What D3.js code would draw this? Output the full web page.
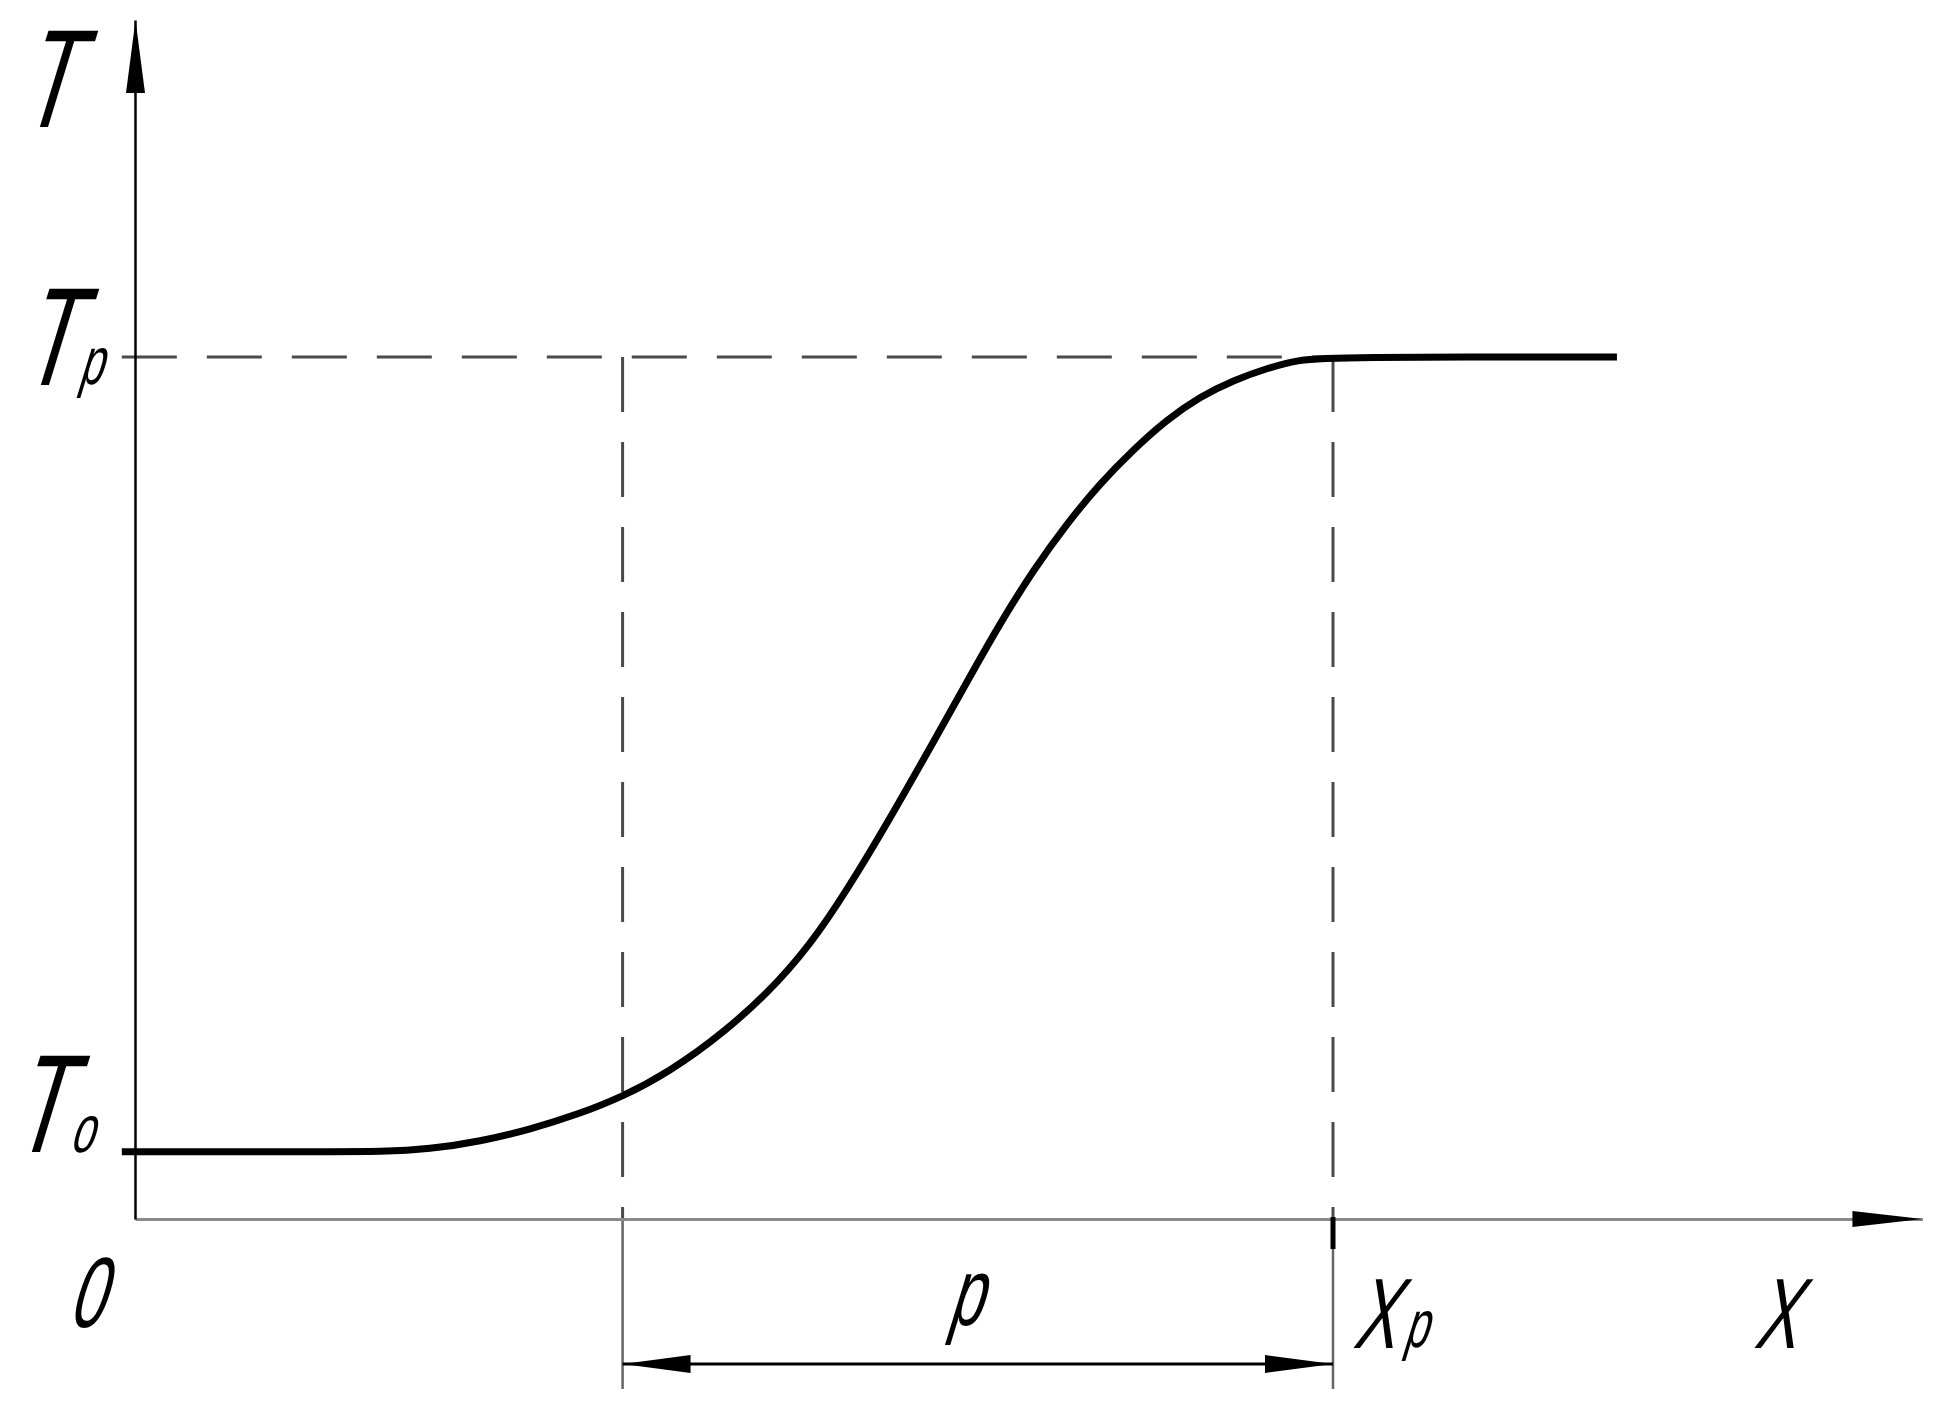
<!DOCTYPE html>
<html>
<head>
<meta charset="utf-8">
<script src="https://cdn.jsdelivr.net/npm/d3@7"></script>
<style>
  body { margin: 0; background: #fff; }
  svg { display: block; }
  .lbl { font-family: "Liberation Sans", Arial, sans-serif; fill: #000; }
</style>
</head>
<body>
<svg id="content"></svg>
<script>
// curve T(x) (x in units where Xp = 10, T in units where Tp = 10)
const curveX = [-0.11, 1.63, 2.05, 2.46, 2.88, 3.30, 3.71, 4.07, 4.44, 4.92, 5.39, 5.71, 6.03, 6.34,
                6.66, 6.94, 7.22, 7.50, 7.78, 8.06, 8.33, 8.61, 8.89, 9.17, 9.45, 9.72, 10.00, 12.37];
const curveT = [0.78, 0.78, 0.78, 0.81, 0.90, 1.04, 1.22, 1.42, 1.69, 2.16, 2.77, 3.32, 4.01, 4.74,
                5.52, 6.22, 6.91, 7.53, 8.07, 8.54, 8.92, 9.27, 9.54, 9.73, 9.87, 9.97, 10.00, 10.00];

// levels and marks on the axes
const T0 = 0.78, Tp = 10;
const xStart = 4.07, xP = 10;
const xMax = 14.92, tMax = 13.91;

// label texts
const axisNames = ["T", "X"];
const originName = "0";
const levelSubs = ["o", "p"];
const dimName = "p";

const W = 1945, H = 1412;

const svg = d3.select("#content")
    .attr("width", W)
    .attr("height", H);

svg.append("rect").attr("width", W).attr("height", H).attr("fill", "#fff");

const x = d3.scaleLinear().domain([0, xP]).range([135, 1333]);
const y = d3.scaleLinear().domain([0, Tp]).range([1219, 357]);

const x0 = x(0), y0 = y(0);
const data = curveX.map((v, i) => ({ x: v, t: curveT[i] }));

// dashed guide lines
const dash = "55,30";
const guides = svg.append("g")
    .attr("stroke", "#4a4a4a")
    .attr("stroke-width", 3)
    .attr("fill", "none");

guides.append("line")
    .attr("x1", x(-0.11)).attr("x2", x(xP))
    .attr("y1", y(Tp)).attr("y2", y(Tp))
    .attr("stroke-dasharray", dash);

[xStart, xP].forEach(v => {
    guides.append("line")
        .attr("x1", x(v)).attr("x2", x(v))
        .attr("y1", y(Tp)).attr("y2", y0)
        .attr("stroke-dasharray", dash);
    // extension line below the axis
    guides.append("line")
        .attr("x1", x(v)).attr("x2", x(v))
        .attr("y1", y0).attr("y2", y0 + 170)
        .attr("stroke", "#666")
        .attr("stroke-width", 2.5);
});

// x axis (no ticks, just the line)
const xAxisScale = d3.scaleLinear().domain([0, xMax]).range([x0, x(xMax)]);
svg.append("g")
    .attr("transform", `translate(0,${y0})`)
    .call(d3.axisBottom(xAxisScale).tickValues([]).tickSizeOuter(0))
    .call(g => g.select(".domain").attr("stroke", "#8a8a8a").attr("stroke-width", 3));

// y axis
const yAxisScale = d3.scaleLinear().domain([0, tMax]).range([y0, y(tMax)]);
svg.append("g")
    .attr("transform", `translate(${x0},0)`)
    .call(d3.axisLeft(yAxisScale).tickValues([]).tickSizeOuter(0))
    .call(g => g.select(".domain").attr("stroke", "#000").attr("stroke-width", 2.5));

// arrow heads
function arrow(tipX, tipY, dx, dy, len, half) {
    // dx,dy: unit direction the arrow points to
    const bx = tipX - dx * len, by = tipY - dy * len;
    const nx = -dy, ny = dx;
    return `M${tipX},${tipY}L${bx + nx * half},${by + ny * half}L${bx - nx * half},${by - ny * half}Z`;
}
svg.append("path").attr("d", arrow(x0 + 0.5, y(tMax), 0, -1, 73, 9.5)).attr("fill", "#000");
svg.append("path").attr("d", arrow(x(xMax), y0, 1, 0, 70, 8)).attr("fill", "#000");

// tick at Xp
svg.append("line")
    .attr("x1", x(xP)).attr("x2", x(xP))
    .attr("y1", y0 - 2).attr("y2", y0 + 30)
    .attr("stroke", "#000").attr("stroke-width", 5);

// dimension line P
const dimY = y0 + 145;
svg.append("line")
    .attr("x1", x(xStart)).attr("x2", x(xP))
    .attr("y1", dimY).attr("y2", dimY)
    .attr("stroke", "#000").attr("stroke-width", 3);
svg.append("path").attr("d", arrow(x(xStart), dimY, -1, 0, 68, 9)).attr("fill", "#000");
svg.append("path").attr("d", arrow(x(xP), dimY, 1, 0, 68, 9)).attr("fill", "#000");

// the curve
const line = d3.line()
    .x(d => x(d.x))
    .y(d => y(d.t))
    .curve(d3.curveBasis);

svg.append("path")
    .datum(data)
    .attr("d", line)
    .attr("fill", "none")
    .attr("stroke", "#000")
    .attr("stroke-width", 7)
    .attr("stroke-linejoin", "round");

// labels, drawing-type italic (narrow + slanted)
function label(txt, px, py, size) {
    svg.append("text")
        .attr("class", "lbl")
        .attr("transform", `translate(${px},${py}) skewX(-17) scale(0.63,1)`)
        .attr("font-size", size)
        .text(txt);
}

label(axisNames[0], x0 - 118, 127, 140);
label("T", x0 - 117, y(Tp) + 28, 140);
label(levelSubs[1], x0 - 57, y(Tp) + 27, 67);
label("T", x0 - 126, y(T0), 140);
label(levelSubs[0], x0 - 66, y(T0), 67);
label(originName, x0 - 68, y0 + 108, 100);
label(dimName, 947, dimY - 39, 96);
label("X", x(xP) + 19, y0 + 129, 100);
label(levelSubs[1], x(xP) + 70, y0 + 128, 67);
label(axisNames[1], 1753, y0 + 129, 100);
</script>
</body>
</html>
